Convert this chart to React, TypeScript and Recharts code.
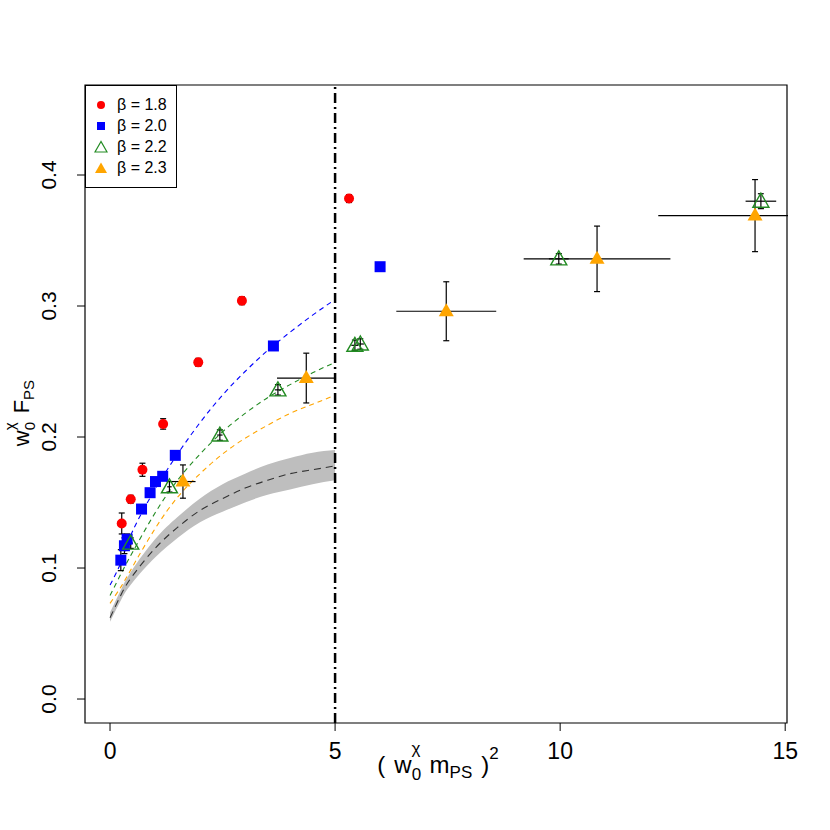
import {
  ComposedChart, XAxis, YAxis, Line, Area, Scatter, ErrorBar, ReferenceLine, ReferenceArea,
} from "recharts";

const FONT = "'Liberation Sans', Arial, sans-serif";

// chiral-fit curves
const curveX = [0, 0.25, 0.5, 1, 1.5, 2, 2.5, 3, 3.5, 4, 4.5, 5];
const fit20 = [0.087, 0.105, 0.128, 0.160, 0.187, 0.211, 0.232, 0.250, 0.266, 0.280, 0.293, 0.305];
const fit22 = [0.079, 0.096, 0.112, 0.142, 0.167, 0.187, 0.204, 0.218, 0.230, 0.240, 0.249, 0.257];
const fit23 = [0.073, 0.086, 0.101, 0.130, 0.154, 0.172, 0.187, 0.199, 0.209, 0.218, 0.225, 0.232];
const fitCont = [0.062, 0.080, 0.094, 0.115, 0.131, 0.144, 0.153, 0.161, 0.167, 0.172, 0.175, 0.178];
const bandLo = [0.059, 0.076, 0.089, 0.108, 0.123, 0.135, 0.143, 0.150, 0.156, 0.160, 0.164, 0.167];
const bandHi = [0.066, 0.084, 0.099, 0.122, 0.139, 0.153, 0.164, 0.172, 0.179, 0.184, 0.188, 0.190];

// beta = 1.8
const b18X = [0.26, 0.46, 0.72, 1.18, 1.96, 2.93, 5.31];
const b18Y = [0.134, 0.1525, 0.175, 0.210, 0.257, 0.304, 0.382];
const b18Xe = [0.03, 0.03, 0.03, 0.03, 0.03, 0.03, 0.04];
const b18Ye = [0.008, 0.003, 0.005, 0.004, 0.003, 0.003, 0.003];
// beta = 2.0
const b20X = [0.24, 0.32, 0.38, 0.70, 0.89, 1.01, 1.17, 1.45, 3.63, 6.0];
const b20Y = [0.106, 0.117, 0.122, 0.145, 0.1575, 0.166, 0.170, 0.186, 0.2695, 0.330];
const b20Xe = [0.02, 0.02, 0.02, 0.02, 0.02, 0.02, 0.02, 0.02, 0.03, 0.04];
const b20Ye = [0.008, 0.006, 0.004, 0.003, 0.003, 0.003, 0.003, 0.003, 0.003, 0.003];
// beta = 2.2
const b22X = [0.46, 1.32, 2.44, 3.73, 5.44, 5.56, 9.97, 14.46];
const b22Y = [0.119, 0.162, 0.2015, 0.236, 0.270, 0.271, 0.336, 0.380];
const b22Xe = [0.05, 0.05, 0.06, 0.07, 0.08, 0.08, 0.22, 0.34];
const b22Ye = [0.004, 0.004, 0.004, 0.004, 0.004, 0.004, 0.004, 0.0057];
// beta = 2.3
const b23X = [1.62, 4.36, 7.47, 10.82, 14.33];
const b23Y = [0.166, 0.245, 0.296, 0.336, 0.369];
const b23Xe = [0.28, 0.65, 1.11, 1.63, 2.15];
const b23Ye = [0.0127, 0.019, 0.0225, 0.025, 0.0275];

const xTicks = [0, 5, 10, 15];
const yTicks = [0, 0.1, 0.2, 0.3, 0.4];

const curveRows = curveX.map((x, i) => ({
  x, fit20: fit20[i], fit22: fit22[i], fit23: fit23[i], cont: fitCont[i], band: [bandLo[i], bandHi[i]],
}));
const rows = (xs: number[], ys: number[], xe: number[], ye: number[]) =>
  xs.map((x, i) => ({ x, y: ys[i], xe: xe[i], ye: ye[i] }));
const d18 = rows(b18X, b18Y, b18Xe, b18Ye);
const d20 = rows(b20X, b20Y, b20Xe, b20Ye);
const d22 = rows(b22X, b22Y, b22Xe, b22Ye);
const d23 = rows(b23X, b23Y, b23Xe, b23Ye);

const RED = "#FF0000", BLUE = "#0000FF", GREEN = "#228B22", ORANGE = "#FFA500";

const Dot = (p: any) => <circle cx={p.cx} cy={p.cy} r={5} fill={RED} />;
const Sq = (p: any) => <rect x={p.cx - 5.5} y={p.cy - 5.5} width={11} height={11} fill={BLUE} />;
const OpenTri = (p: any) => (
  <polygon points={`${p.cx},${p.cy - 8} ${p.cx - 8},${p.cy + 6} ${p.cx + 8},${p.cy + 6}`} fill="none" stroke={GREEN} strokeWidth={1.4} />
);
const FillTri = (p: any) => (
  <polygon points={`${p.cx},${p.cy - 8} ${p.cx - 7.5},${p.cy + 5} ${p.cx + 7.5},${p.cy + 5}`} fill={ORANGE} />
);
const Nothing = () => <g />;

const YTick = (p: any) => (
  <text x={56} y={p.y} transform={`rotate(-90 56 ${p.y})`} textAnchor="middle" fontSize={21} fontFamily={FONT} fill="#000">
    {p.payload.value.toFixed(1)}
  </text>
);

const XTitle = () => (
  <text x={438} y={773} textAnchor="middle" fontSize={24} fontFamily={FONT} fill="#000">
    <tspan>(</tspan>
    <tspan dx={9}>w</tspan>
    <tspan fontSize={17} dy={7}>0</tspan>
    <tspan fontSize={17} dx={-9.5} dy={-26}>χ</tspan>
    <tspan dx={9} dy={19}>m</tspan>
    <tspan fontSize={17} dy={5}>PS</tspan>
    <tspan dx={9} dy={-5}>)</tspan>
    <tspan fontSize={17} dy={-14}>2</tspan>
  </text>
);

const YTitle = () => (
  <text transform="translate(29,413) rotate(-90)" textAnchor="middle" fontSize={22} fontFamily={FONT} fill="#000">
    <tspan>w</tspan>
    <tspan fontSize={15} dy={6}>0</tspan>
    <tspan fontSize={15} dx={-8.3} dy={-20}>χ</tspan>
    <tspan dx={9} dy={14}>F</tspan>
    <tspan fontSize={15} dy={5}>PS</tspan>
  </text>
);

const legendItems = [
  { label: "β = 1.8", sym: <circle cx={7} cy={7} r={4} fill={RED} /> },
  { label: "β = 2.0", sym: <rect x={3} y={3} width={8} height={8} fill={BLUE} /> },
  { label: "β = 2.2", sym: <polygon points="7,1.5 1,12 13,12" fill="none" stroke={GREEN} strokeWidth={1.2} /> },
  { label: "β = 2.3", sym: <polygon points="7,1.5 1,12 13,12" fill={ORANGE} /> },
];

export default function App() {
  const errY = { dataKey: "ye", direction: "y" as const, width: 3, stroke: "#000", strokeWidth: 1.2 };
  const errX = { dataKey: "xe", direction: "x" as const, width: 0, stroke: "#000", strokeWidth: 1.2 };
  return (
    <div style={{ position: "absolute", left: 0, top: 0, width: 830, height: 830, background: "#fff" }}>
      <ComposedChart width={830} height={830} data={curveRows} margin={{ top: 85, right: 43, bottom: 57, left: 0 }}>
        <XAxis type="number" dataKey="x" domain={[-0.556, 15.04]} ticks={xTicks} allowDataOverflow
          axisLine={false} tickSize={8} tickMargin={12} height={50}
          tickLine={{ stroke: "#000" }} tick={{ fill: "#000", fontSize: 23, fontFamily: FONT }}
          label={<XTitle />} />
        <YAxis type="number" dataKey="y" domain={[-0.0183, 0.4687]} ticks={yTicks} allowDataOverflow
          axisLine={false} tickSize={8} width={85} tickLine={{ stroke: "#000" }} tick={<YTick />}
          label={<YTitle />} />
        <Area type="natural" dataKey="band" stroke="none" fill="#BEBEBE" fillOpacity={1} isAnimationActive={false} />
        <Line type="natural" dataKey="cont" stroke="#333" strokeWidth={1.1} strokeDasharray="7 5" dot={false} isAnimationActive={false} />
        <Line type="natural" dataKey="fit23" stroke={ORANGE} strokeWidth={1.1} strokeDasharray="5 4" dot={false} isAnimationActive={false} />
        <Line type="natural" dataKey="fit22" stroke={GREEN} strokeWidth={1.1} strokeDasharray="5 4" dot={false} isAnimationActive={false} />
        <Line type="natural" dataKey="fit20" stroke={BLUE} strokeWidth={1.1} strokeDasharray="5 4" dot={false} isAnimationActive={false} />
        <ReferenceLine x={5} stroke="#000" strokeWidth={2.5} strokeDasharray="10 4 2 4" />
        <Scatter data={d18} dataKey="y" shape={Dot} isAnimationActive={false} />
        <Scatter data={d20} dataKey="y" shape={Sq} isAnimationActive={false} />
        <Scatter data={d23} dataKey="y" shape={FillTri} isAnimationActive={false} />
        <Scatter data={d22} dataKey="y" shape={OpenTri} isAnimationActive={false} />
        {[d18, d20, d22, d23].map((d, i) => (
          <Scatter key={i} data={d} dataKey="y" shape={Nothing} isAnimationActive={false}>
            <ErrorBar {...errY} />
            <ErrorBar {...errX} />
          </Scatter>
        ))}
        <ReferenceArea x1={-0.556} x2={15.04} y1={-0.0183} y2={0.4687} fill="none" stroke="#000" strokeWidth={1.2} ifOverflow="visible" />
      </ComposedChart>
      {/* error bars are not clipped by the library: mask what spills past the right frame */}
      <div style={{ position: "absolute", left: 788, top: 84, width: 42, height: 640, background: "#fff" }} />
      <div style={{
        position: "absolute", left: 85, top: 85, width: 92, height: 103, boxSizing: "border-box",
        border: "1px solid #000", background: "#fff", fontFamily: FONT, fontSize: 16, padding: "8px 0 0 8px",
      }}>
        {legendItems.map((it) => (
          <div key={it.label} style={{ display: "flex", alignItems: "center", height: 21 }}>
            <svg width={14} height={14} style={{ marginRight: 9 }}>{it.sym}</svg>
            <span>{it.label}</span>
          </div>
        ))}
      </div>
    </div>
  );
}
